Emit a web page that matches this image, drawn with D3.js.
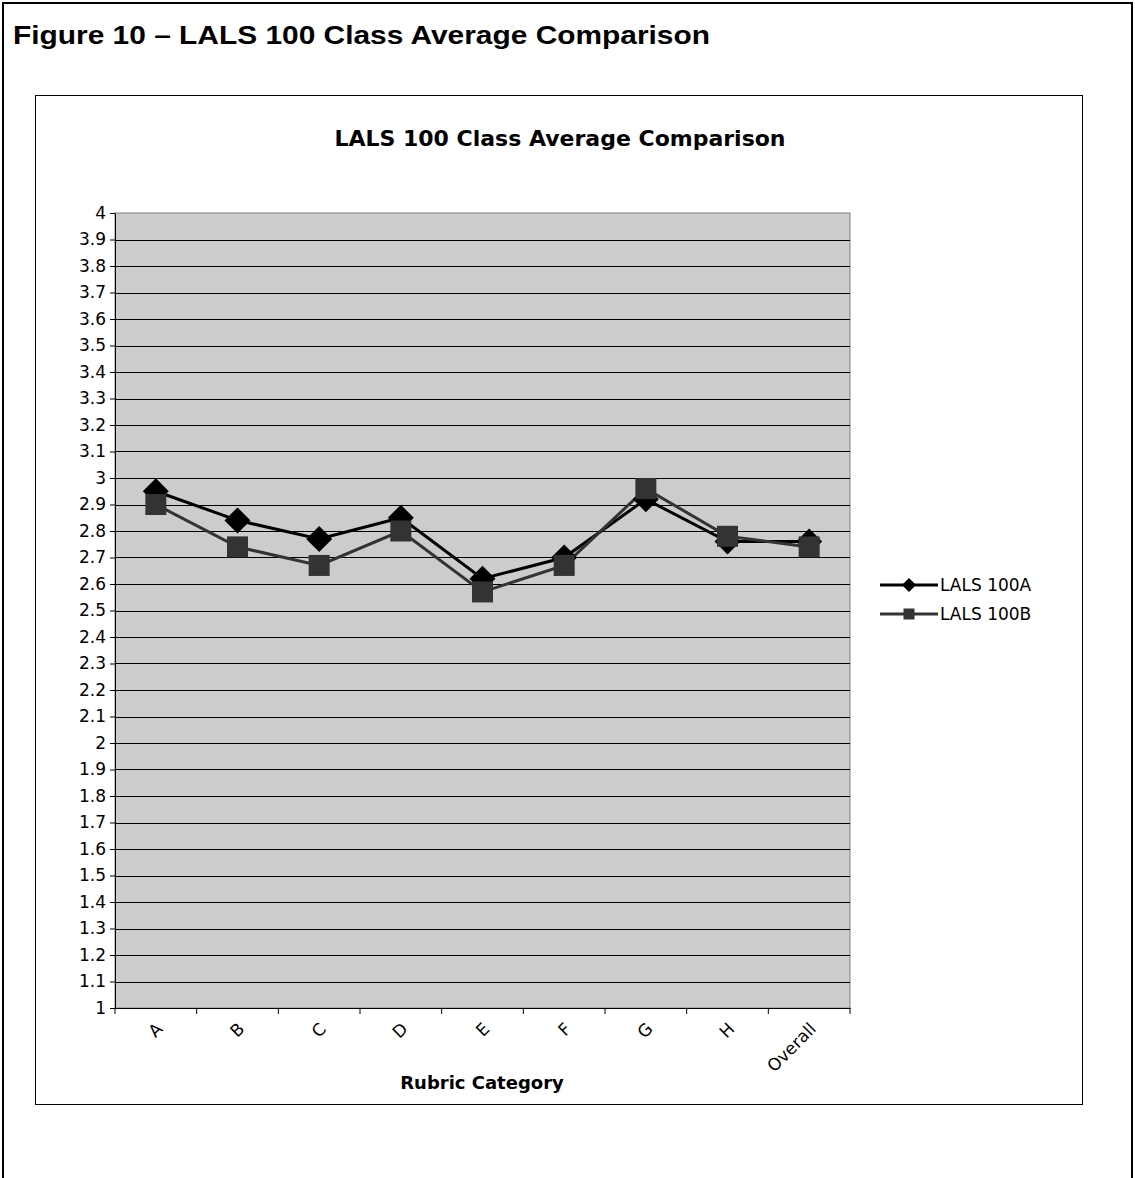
<!DOCTYPE html>
<html>
<head>
<meta charset="utf-8">
<script src="https://cdn.jsdelivr.net/npm/d3@7"></script>
<style>
  body { margin: 0; background: #fff; }
  svg text { font-family: Verdana, "DejaVu Sans", sans-serif; }
</style>
</head>
<body>
<div id="chart"></div>
<script>
// data
var categories = ["A", "B", "C", "D", "E", "F", "G", "H", "Overall"];
var seriesA = [2.95, 2.84, 2.77, 2.85, 2.62, 2.70, 2.92, 2.76, 2.76];
var seriesB = [2.90, 2.74, 2.67, 2.80, 2.57, 2.67, 2.96, 2.78, 2.74];
var seriesNames = ["LALS 100A", "LALS 100B"];
var yTicks = d3.range(10, 41).map(d => d / 10);

var svgWidth = 1135, svgHeight = 1178;
var plot = { left: 115, right: 850, top: 213, bottom: 1008 };

var svg = d3.select("#chart").append("svg")
    .attr("width", svgWidth)
    .attr("height", svgHeight);

// outer page frame (open at bottom)
svg.append("path")
    .attr("d", "M3,1178 V3 H1132 V1178")
    .attr("fill", "none").attr("stroke", "#000").attr("stroke-width", 2);

svg.append("text")
    .attr("x", 13).attr("y", 44)
    .style("font-family", "Arial, 'Liberation Sans', sans-serif")
    .attr("font-size", 25).attr("font-weight", "bold")
    .attr("textLength", 697).attr("lengthAdjust", "spacingAndGlyphs")
    .text("Figure 10 \u2013 LALS 100 Class Average Comparison");

// chart area box
svg.append("rect")
    .attr("x", 35.5).attr("y", 95.5).attr("width", 1047).attr("height", 1009)
    .attr("fill", "#fff").attr("stroke", "#000").attr("stroke-width", 1);

svg.append("text")
    .attr("x", 560).attr("y", 146).attr("text-anchor", "middle")
    .attr("font-size", 22).attr("font-weight", "bold")
    .text("LALS 100 Class Average Comparison");

var x = d3.scaleBand().domain(categories).range([plot.left, plot.right]);
var y = d3.scaleLinear().domain([1, 4]).range([plot.bottom, plot.top]);

var chartGroup = svg.append("g");

chartGroup.append("rect")
    .attr("x", plot.left).attr("y", plot.top)
    .attr("width", plot.right - plot.left).attr("height", plot.bottom - plot.top)
    .attr("fill", "#cccccc").attr("stroke", "#808080");

// gridlines
chartGroup.selectAll("line.grid")
    .data(yTicks.slice(1, -1))
    .enter().append("line")
    .attr("x1", plot.left).attr("x2", plot.right)
    .attr("y1", d => Math.round(y(d)) + 0.5).attr("y2", d => Math.round(y(d)) + 0.5)
    .attr("stroke", "#000").attr("stroke-width", 1);

// y axis
var leftAxis = d3.axisLeft(y).tickValues(yTicks).tickSize(5).tickSizeOuter(0)
    .tickFormat(d => d3.format("")(+d.toFixed(1)));
var yAxis = chartGroup.append("g")
    .attr("transform", `translate(${plot.left}, 0)`)
    .call(leftAxis);
yAxis.selectAll("text").attr("font-size", 17).attr("fill", "#000").attr("dx", -1);
yAxis.selectAll("line, path").attr("stroke", "#000");

// x axis
var bottomAxis = d3.axisBottom(x).tickSize(0).tickFormat("");
var xAxis = chartGroup.append("g")
    .attr("transform", `translate(0, ${plot.bottom})`)
    .call(bottomAxis);
xAxis.selectAll("path").attr("stroke", "#000");
xAxis.selectAll("line.edge")
    .data(categories.map(c => x(c)).concat([plot.right]))
    .enter().append("line")
    .attr("x1", d => d).attr("x2", d => d)
    .attr("y1", 0).attr("y2", 6)
    .attr("stroke", "#000");

chartGroup.selectAll("text.xlab")
    .data(categories)
    .enter().append("text")
    .attr("transform", d => `translate(${x(d) + x.bandwidth() / 2 + 8}, ${plot.bottom + 22}) rotate(-45)`)
    .attr("text-anchor", "end")
    .attr("font-size", 17)
    .text(d => d);

svg.append("text")
    .attr("x", 482).attr("y", 1089).attr("text-anchor", "middle")
    .attr("font-size", 18).attr("font-weight", "bold")
    .text("Rubric Category");

// lines and markers
var line = d3.line()
    .x((d, i) => x(categories[i]) + x.bandwidth() / 2)
    .y(d => y(d));

var colors = ["#000000", "#333333"];
function diamondPath(r) { return `M0,${-r}L${r},0L0,${r}L${-r},0Z`; }
function squarePath(r) { return `M${-r},${-r}H${r}V${r}H${-r}Z`; }

[seriesA, seriesB].forEach(function(vals, s) {
  chartGroup.append("path")
      .datum(vals)
      .attr("d", line)
      .attr("fill", "none")
      .attr("stroke", colors[s])
      .attr("stroke-width", 3);
});
[seriesA, seriesB].forEach(function(vals, s) {
  chartGroup.selectAll("path.m" + s)
      .data(vals)
      .enter().append("path")
      .attr("transform", (d, i) => `translate(${x(categories[i]) + x.bandwidth() / 2}, ${y(d)})`)
      .attr("d", s === 0 ? diamondPath(13) : squarePath(10.5))
      .attr("fill", colors[s]);
});

// legend
var legend = svg.append("g").attr("transform", "translate(880, 585)");
seriesNames.forEach(function(name, i) {
  var g = legend.append("g").attr("transform", `translate(0, ${i * 29})`);
  g.append("line").attr("x1", 0).attr("x2", 58).attr("y1", 0).attr("y2", 0)
      .attr("stroke", colors[i]).attr("stroke-width", 3);
  g.append("path").attr("transform", "translate(29,0)")
      .attr("d", i === 0 ? diamondPath(7) : squarePath(5.5))
      .attr("fill", colors[i]);
  g.append("text").attr("x", 60).attr("y", 6).attr("font-size", 17).text(name);
});
</script>
</body>
</html>
